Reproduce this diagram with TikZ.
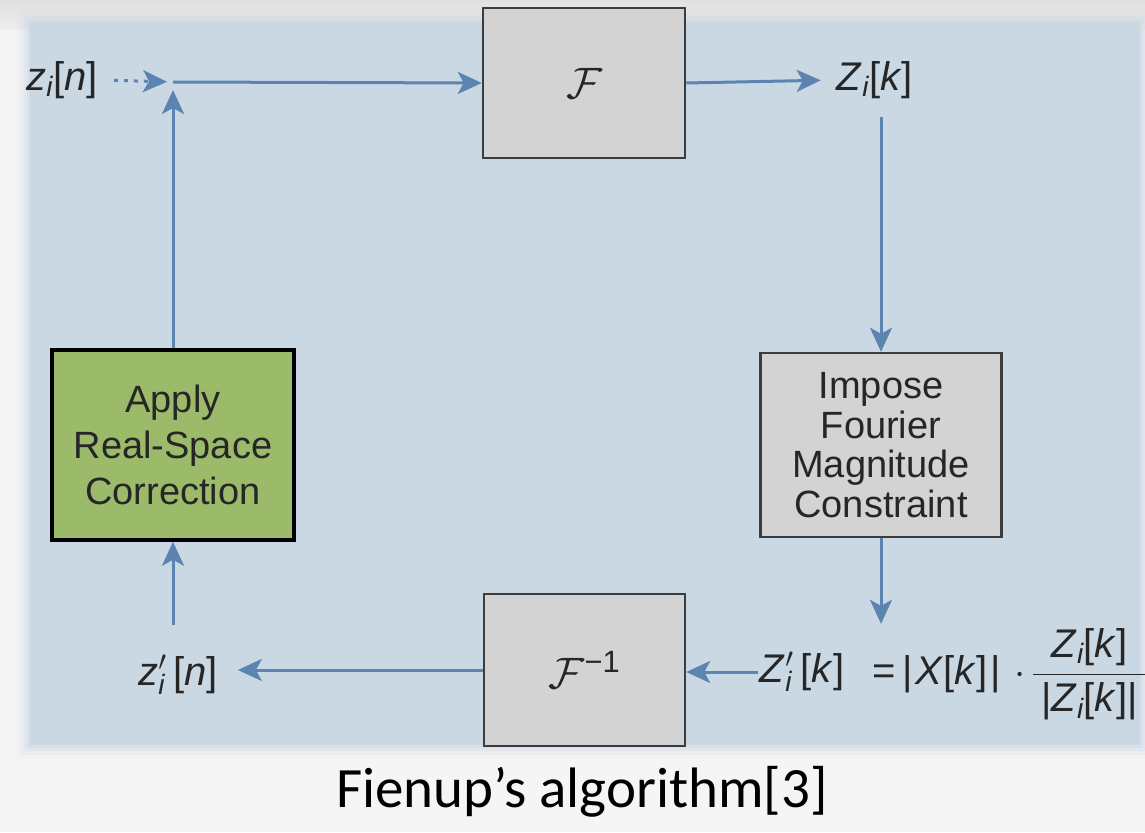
\RequirePackage{fix-cm}
\documentclass[tikz,border=0pt]{standalone}
\usepackage{amsmath}
\usepackage{fontspec}
\newfontfamily\hv{Liberation Sans}
\newfontfamily\capfont{Carlito}
\usetikzlibrary{arrows.meta}
\definecolor{panel}{HTML}{CAD8E4}
\definecolor{flow}{HTML}{5B84B1}
\definecolor{boxgray}{HTML}{D3D3D3}
\definecolor{boxedge}{HTML}{3C3C3C}
\definecolor{corr}{HTML}{9BBB6A}
\definecolor{ink}{HTML}{262626}
\newcommand\vi[1]{\textit{#1}}
\tikzset{
  lbl/.style={font=\hv\fontsize{40}{48}\selectfont, text=ink, inner sep=2pt},
  opbox/.style={draw=boxedge, line width=2.5pt, fill=boxgray, text=ink,
    font=\fontsize{44}{50}\selectfont},
  txtbox/.style={font=\hv\fontsize{38}{46}\selectfont, text=ink, align=center, inner sep=0pt},
  tip/.style={-{Stealth[length=24pt,width=22pt,inset=6pt]}},
  flowarrow/.style={draw=flow, line width=3pt, tip},
}
\begin{document}
\begin{tikzpicture}[x=1pt,y=-1pt]
\useasboundingbox (0,0) rectangle (1145,832);
% page background and soft panel
\fill[white!96!black] (0,0) rectangle (1145,832);
\shade[top color=white!88!black, bottom color=white!93!black] (0,0) rectangle (1145,30);
\foreach \k/\o in {14/0.12, 10/0.15, 6/0.25, 3/0.35, 0/1}
  \fill[panel, opacity=\o] (30-\k,22-\k) rectangle (1140+\k,745+\k);

% blocks
\node[opbox, minimum width=202pt, minimum height=150pt] (F) at (584,83) {$\mathcal{F}$};
\node[opbox, minimum width=201pt, minimum height=152pt] (Finv) at (584.5,670)
  {$\mathcal{F}^{\text{\hv −1}}$};
\node[txtbox, draw=black, line width=3.5pt, fill=corr, minimum width=242pt, minimum height=190pt]
  (corr) at (173,445) {Apply\\Real-Space\\Correction};
\node[txtbox, font=\hv\fontsize{38}{39.5}\selectfont, draw=boxedge, line width=2.5pt, fill=boxgray,
  minimum width=241pt, minimum height=184pt] (imp) at (881,445) {Impose\\Fourier\\Magnitude\\Constraint};

% signal labels
\node[lbl] (zin) at (62,80) {\vi{z}$_{\vi{i}}$[\vi{n}]};
\coordinate (junc) at (173,82);
\node[lbl] (Zk) at (875,80) {\vi{Z}$_{\vi{i}}$[\vi{k}]};
\node[lbl] (zpk) at (802,672) {\vi{Z}$'_{\vi{i}}$\,[\vi{k}]};
\node[lbl, anchor=west] (rhs) at (870,674)
  {=\,|\hspace{3pt}\vi{X}[\vi{k}]\hspace{3pt}|\,\,$\cdot$\,$\dfrac{\hspace{8pt}\text{\vi{Z}$_{\vi{i}}$[\vi{k}]}\hspace{8pt}}{\hspace{8pt}\text{|\vi{Z}$_{\vi{i}}$[\vi{k}]|}\hspace{8pt}}$};
\node[lbl] (zpn) at (178,675) {\vi{z}$'_{\vi{i}}$\,[\vi{n}]};

% connectors
\draw[flow, line width=3pt, dash pattern=on 4pt off 6pt, tip,
  shorten <=14pt, shorten >=6pt] (zin.east) -- (junc);
\draw[flowarrow] (junc) -- (F.west);
\draw[flowarrow, shorten >=14pt] (F.east) -- (Zk.west);
\draw[flowarrow, shorten <=16pt] (Zk.south -| imp.north) -- (imp.north);
\draw[flowarrow, shorten >=26pt] (imp.south) -- (imp.south |- zpk.north);
\draw[flowarrow] (zpk.west) -- (zpk.west -| Finv.east);
\draw[flowarrow, shorten >=18pt] (Finv.west) -- (Finv.west -| zpn.east);
\draw[flowarrow, shorten <=28pt] (zpn.north -| corr.south) -- (corr.south);
\draw[flowarrow, shorten >=8pt] (corr.north) -- (junc);

% caption
\node[font=\capfont\fontsize{57}{64}\selectfont, text=black] (cap) at (582,792) {Fienup’s algorithm[3]};
\end{tikzpicture}
\end{document}
